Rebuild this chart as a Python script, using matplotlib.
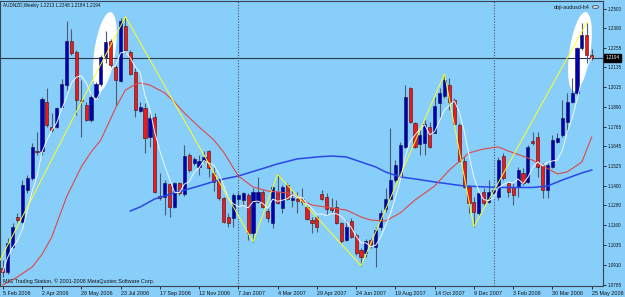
import matplotlib
matplotlib.use("Agg")
import matplotlib.pyplot as plt
import matplotlib.patches as patches
import matplotlib.transforms as transforms
from matplotlib import font_manager
import numpy as np
import pandas as pd

# AUDNZD weekly candles, 5 Feb 2006 .. 25 May 2008 (bar 0 .. 120)
opens = [
    1.0889, 1.0869, 1.1024, 1.1210, 1.1179, 1.1375, 1.1448, 1.1619, 1.1619, 1.1923,
    1.1768, 1.1768, 1.1892, 1.2026, 1.2301, 1.2233, 1.1933, 1.1902, 1.1809, 1.1954,
    1.2030, 1.2202, 1.2301, 1.2136, 1.2053, 1.2392, 1.2229, 1.2109, 1.1867, 1.1886,
    1.1706, 1.1830, 1.1338, 1.1334, 1.1410, 1.1268, 1.1421, 1.1350, 1.1592, 1.1541,
    1.1520, 1.1557, 1.1619, 1.1483, 1.1437, 1.1328, 1.1206, 1.1200, 1.1317, 1.1313,
    1.1344, 1.1107, 1.1303, 1.1365, 1.1247, 1.1173, 1.1365, 1.1262, 1.1406, 1.1313,
    1.1317, 1.1317, 1.1272, 1.1189, 1.1210, 1.1350, 1.1330, 1.1262, 1.1272, 1.1168,
    1.1065, 1.1185, 1.1096, 1.1003, 1.0982, 1.1065, 1.1024, 1.1148, 1.1255, 1.1317,
    1.1437, 1.1458, 1.1644, 1.2006, 1.1793, 1.1660, 1.1669, 1.1768, 1.1731, 1.1917,
    1.1958, 1.2026, 1.1933, 1.1778, 1.1557, 1.1396, 1.1303, 1.1231, 1.1365, 1.1303,
    1.1359, 1.1334, 1.1586, 1.1417, 1.1396, 1.1396, 1.1479, 1.1427, 1.1681, 1.1702,
    1.1530, 1.1375, 1.1520, 1.1675, 1.1716, 1.1799, 1.1923, 1.1975, 1.2254, 1.2336,
    1.2213]
highs = [
    1.0941, 1.1076, 1.1168, 1.1231, 1.1437, 1.1468, 1.1665, 1.1737, 1.1954, 1.2010,
    1.1851, 1.1892, 1.2064, 1.2425, 1.2372, 1.2243, 1.2057, 1.1923, 1.1975, 1.2047,
    1.2212, 1.2361, 1.2310, 1.2150, 1.2440, 1.2450, 1.2243, 1.2130, 1.1923, 1.1913,
    1.1851, 1.1851, 1.1479, 1.1437, 1.1421, 1.1427, 1.1427, 1.1654, 1.1603, 1.1578,
    1.1592, 1.1619, 1.1623, 1.1520, 1.1448, 1.1334, 1.1231, 1.1359, 1.1365, 1.1365,
    1.1359, 1.1386, 1.1458, 1.1375, 1.1262, 1.1406, 1.1472, 1.1406, 1.1421, 1.1375,
    1.1365, 1.1386, 1.1282, 1.1210, 1.1214, 1.1375, 1.1355, 1.1324, 1.1313, 1.1179,
    1.1189, 1.1200, 1.1107, 1.1013, 1.1069, 1.1076, 1.1148, 1.1251, 1.1386, 1.1758,
    1.1561, 1.1675, 1.2026, 1.2016, 1.1799, 1.1747, 1.1809, 1.1799, 1.1950, 1.2006,
    1.2095, 1.2068, 1.1944, 1.1789, 1.1582, 1.1406, 1.1334, 1.1365, 1.1386, 1.1437,
    1.1396, 1.1582, 1.1603, 1.1427, 1.1417, 1.1520, 1.1510, 1.1654, 1.1737, 1.1737,
    1.1541, 1.1541, 1.1716, 1.1727, 1.1933, 1.1975, 1.2068, 1.2264, 1.2409, 1.2413,
    1.2248]
lows = [
    1.0838, 1.0854, 1.1013, 1.1179, 1.1173, 1.1355, 1.1437, 1.1592, 1.1592, 1.1768,
    1.1737, 1.1758, 1.1882, 1.1995, 1.2212, 1.1840, 1.1706, 1.1805, 1.1799, 1.1933,
    1.2020, 1.2161, 1.2140, 1.1902, 1.2047, 1.2223, 1.2088, 1.1826, 1.1861, 1.1607,
    1.1644, 1.1355, 1.1313, 1.1220, 1.1206, 1.1262, 1.1344, 1.1338, 1.1489, 1.1530,
    1.1468, 1.1551, 1.1458, 1.1371, 1.1313, 1.1168, 1.1148, 1.1148, 1.1282, 1.1282,
    1.1065, 1.1055, 1.1293, 1.1262, 1.1179, 1.1137, 1.1288, 1.1231, 1.1313, 1.1272,
    1.1231, 1.1282, 1.1189, 1.1107, 1.1117, 1.1313, 1.1220, 1.1231, 1.1164, 1.1044,
    1.1061, 1.1076, 1.0972, 1.0906, 1.0962, 1.1013, 1.0900, 1.1127, 1.1241, 1.1313,
    1.1427, 1.1437, 1.1634, 1.1789, 1.1634, 1.1592, 1.1592, 1.1634, 1.1727, 1.1820,
    1.1944, 1.1871, 1.1778, 1.1551, 1.1386, 1.1231, 1.1148, 1.1220, 1.1282, 1.1293,
    1.1355, 1.1313, 1.1437, 1.1334, 1.1282, 1.1334, 1.1406, 1.1417, 1.1654, 1.1458,
    1.1324, 1.1324, 1.1510, 1.1665, 1.1706, 1.1727, 1.1913, 1.1964, 1.2243, 1.2161,
    1.2184]
closes = [
    1.0869, 1.1044, 1.1144, 1.1189, 1.1406, 1.1448, 1.1644, 1.1613, 1.1940, 1.1778,
    1.1747, 1.1882, 1.2030, 1.2301, 1.2227, 1.1933, 1.1929, 1.1809, 1.1954, 1.2030,
    1.2202, 1.2291, 1.2150, 1.2057, 1.2425, 1.2243, 1.2095, 1.1871, 1.1888, 1.1696,
    1.1824, 1.1365, 1.1326, 1.1421, 1.1272, 1.1421, 1.1355, 1.1588, 1.1499, 1.1565,
    1.1557, 1.1582, 1.1510, 1.1427, 1.1324, 1.1179, 1.1173, 1.1344, 1.1344, 1.1355,
    1.1107, 1.1365, 1.1361, 1.1272, 1.1200, 1.1396, 1.1297, 1.1396, 1.1317, 1.1324,
    1.1305, 1.1303, 1.1195, 1.1173, 1.1144, 1.1317, 1.1255, 1.1251, 1.1173, 1.1061,
    1.1148, 1.1082, 1.0982, 1.0962, 1.1061, 1.1034, 1.1127, 1.1231, 1.1317, 1.1437,
    1.1530, 1.1654, 1.1954, 1.1799, 1.1644, 1.1716, 1.1784, 1.1644, 1.1896, 1.1979,
    1.2057, 1.1923, 1.1784, 1.1557, 1.1396, 1.1293, 1.1241, 1.1355, 1.1293, 1.1365,
    1.1375, 1.1561, 1.1448, 1.1365, 1.1344, 1.1499, 1.1421, 1.1644, 1.1665, 1.1520,
    1.1375, 1.1530, 1.1685, 1.1696, 1.1820, 1.1923, 1.1975, 1.2254, 1.2336, 1.2212,
    1.2194]

# slow moving averages at some bars
red_ma_bar = [0, 3, 6, 8, 10, 13, 16, 18, 20, 23, 25, 27, 28, 30, 33, 35, 37, 40, 43,
              45, 46, 48, 51, 54, 58, 61, 63, 67, 70, 73, 75, 78, 81, 84, 88, 91, 95,
              98, 101, 103, 107, 109, 113, 115, 118, 120]
red_ma = [1.0786, 1.0836, 1.0898, 1.0975, 1.1084, 1.1332, 1.1518, 1.1610, 1.1686, 1.1884,
          1.1995, 1.2030, 1.2039, 1.2026, 1.1977, 1.1920, 1.1853, 1.1766, 1.1686, 1.1610,
          1.1561, 1.1462, 1.1394, 1.1369, 1.1357, 1.1313, 1.1282, 1.1264, 1.1251, 1.1208,
          1.1189, 1.1183, 1.1233, 1.1313, 1.1400, 1.1499, 1.1605, 1.1630, 1.1642, 1.1617,
          1.1574, 1.1543, 1.1475, 1.1487, 1.1549, 1.1704]
blue_ma_bar = [26, 28, 31, 35, 40, 44, 48, 52, 56, 60, 64, 67, 70, 73, 76, 78, 81, 84,
               88, 94, 101, 108, 111, 114, 118, 120]
blue_ma = [1.1245, 1.1270, 1.1320, 1.1357, 1.1400, 1.1437, 1.1462, 1.1499, 1.1537, 1.1568,
           1.1580, 1.1586, 1.1580, 1.1549, 1.1518, 1.1487, 1.1456, 1.1444, 1.1425, 1.1400,
           1.1391, 1.1391, 1.1400, 1.1437, 1.1481, 1.1499]

# zigzag turning points
zz_bar = [-3, 25, 51, 56, 73, 90, 96, 119]
zz_price = [1.0796, 1.2450, 1.1055, 1.1472, 1.0906, 1.2095, 1.1148, 1.2413]

# circled tops (bar, price)
circled_bar = [20.8, 117.6]
circled_price = [1.2233, 1.2233]

date_labels = ["5 Feb 2006", "2 Apr 2006", "28 May 2006", "23 Jul 2006", "17 Sep 2006",
               "12 Nov 2006", "7 Jan 2007", "4 Mar 2007", "29 Apr 2007", "24 Jun 2007",
               "19 Aug 2007", "14 Oct 2007", "9 Dec 2007", "3 Feb 2008", "30 Mar 2008",
               "25 May 2008"]
price_ticks = [1.2500, 1.2380, 1.2255, 1.2135, 1.2015, 1.1890, 1.1765, 1.1645, 1.1525,
               1.1400, 1.1280, 1.1160, 1.1035, 1.0910, 1.0785]
year_breaks = [48, 100]
last_price = 1.2194
title = "AUDNZD,Weekly 1.2213 1.2248 1.2184 1.2194"

bg = "#87CEFA"
ink = "#141414"

names = {f.name for f in font_manager.fontManager.ttflist}
if "Liberation Sans Narrow" in names:
    fam, fs = "Liberation Sans Narrow", 4.6
else:
    fam, fs = "Liberation Sans", 3.9
small = dict(family=fam, size=fs)
tiny = dict(family=fam, size=fs * 0.85)

o = np.array(opens)
h = np.array(highs)
l = np.array(lows)
c = np.array(closes)
x = np.arange(len(c))
sma5 = pd.Series(c).rolling(5, min_periods=1).mean()

fig = plt.figure(figsize=(6.25, 2.97), dpi=100, facecolor=bg)
ax = fig.add_axes([0, 11 / 297, 603 / 625, 285 / 297], facecolor=bg)
ax.set_xlim(-0.55, 122.3)
ax.set_ylim(1.0780, 1.2547)

# white ellipses behind everything
for bx, py in zip(circled_bar, circled_price):
    tr = transforms.Affine2D() + transforms.ScaledTranslation(bx, py, ax.transData)
    e = patches.Ellipse((0, 0), 21, 80, angle=-8.5, facecolor="white",
                        edgecolor="none", transform=tr, zorder=1)
    ax.add_patch(e)

ax.axhline(last_price, color="#2a3a48", lw=0.8, zorder=2)
for yb in year_breaks:
    ax.axvline(yb, color="#4a5566", lw=0.8, ls=(0, (1, 1.5)), zorder=2)

# candles
up = c >= o
ax.vlines(x, l, h, color="#4e5a72", lw=0.8, zorder=3)
body = np.maximum(np.abs(c - o), 0.0004)
ax.bar(x[up], body[up], bottom=o[up], width=0.64, color="#0000B0",
       edgecolor="#10104a", lw=0.4, zorder=4)
ax.bar(x[~up], body[~up], bottom=c[~up], width=0.64, color="#F01818",
       edgecolor="#401010", lw=0.4, zorder=4)

ax.plot(blue_ma_bar, blue_ma, color="#2848E8", lw=1.1, zorder=5)
ax.plot(red_ma_bar, red_ma, color="#E04848", lw=0.8, zorder=5)
ax.plot(x, sma5, color="#F2F8FF", lw=0.7, zorder=5)
ax.plot(zz_bar, zz_price, color="#FFFF20", lw=0.7, zorder=6)

# axes
for s in ax.spines.values():
    s.set_color("#3a4450")
    s.set_linewidth(0.8)
ax.yaxis.tick_right()
ax.set_yticks(price_ticks)
ax.set_yticklabels(["%.4f" % p for p in price_ticks], **tiny)
ax.set_xticks(range(0, 121, 8))
ax.set_xticklabels(date_labels, ha="left", **small)
ax.tick_params(colors=ink, length=2, width=0.6, pad=1.5)

ax.text(1.004, last_price, "%.4f" % last_price, color="white", va="center", ha="left",
        transform=transforms.blended_transform_factory(ax.transAxes, ax.transData),
        bbox=dict(facecolor="black", edgecolor="black", pad=0.8), zorder=10, **tiny)

fig.text(3 / 625, 1 - 6 / 297, title, color=ink, va="center", ha="left", **tiny)
fig.text(590 / 625, 1 - 7 / 297, "doji-audusd-h4", color=ink, va="center", ha="right", **small)
fig.add_artist(patches.Circle((595.5 / 625, 1 - 7 / 297), 3.2 / 625, transform=fig.transFigure,
                              facecolor="#c8d4dc", edgecolor="#505a66", lw=0.6))
fig.text(3 / 625, 1 - 281 / 297, "MIG Trading Station, \u00a9 2001-2008 MetaQuotes Software Corp.",
         color=ink, va="center", ha="left", **small)

fig.savefig("out.png", dpi=100, facecolor=bg)
